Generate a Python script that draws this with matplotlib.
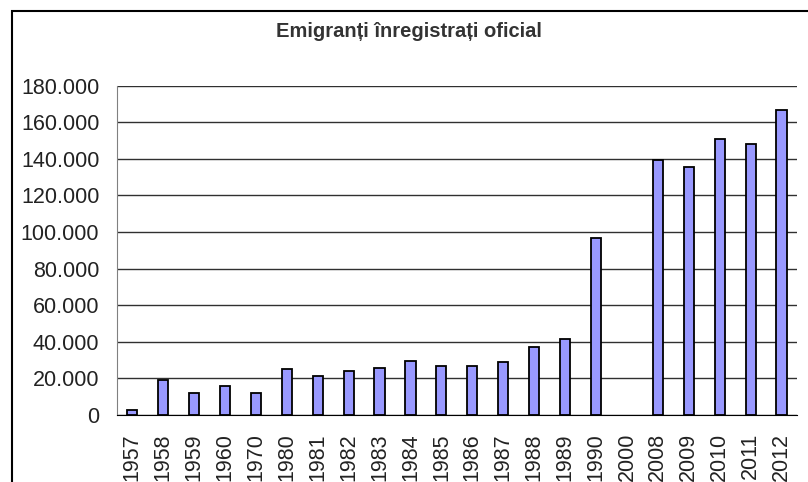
import matplotlib
matplotlib.use('Agg')
import matplotlib.pyplot as plt
import numpy as np
from matplotlib.patches import Rectangle
from matplotlib.ticker import FuncFormatter

ani = ['1957', '1958', '1959', '1960', '1970', '1980', '1981', '1982', '1983',
       '1984', '1985', '1986', '1987', '1988', '1989', '1990', '2000', '2008',
       '2009', '2010', '2011', '2012']
# 2000: fara valoare in grafic
emigranti = [2700, 19300, 12000, 15700, 12000, 25000, 21300, 24100, 25900,
             29700, 27000, 27000, 28800, 37200, 41700, 96900, np.nan, 139500,
             135400, 150700, 148000, 166500]

plt.rcParams['font.family'] = ['Liberation Sans', 'DejaVu Sans']

fig = plt.figure(figsize=(8.08, 4.82), dpi=100)
ax = fig.add_axes([116.7 / 808, 1 - 415 / 482, (797 - 116.7) / 808, (415 - 85.5) / 482])

x = np.arange(len(ani))
ax.bar(x, emigranti, width=0.33, color='#9999ff', edgecolor='black', linewidth=1.3, zorder=3)

ax.set_xlim(-0.5, len(ani) - 0.5)
ax.set_ylim(0, 180000)
ax.set_yticks(np.arange(0, 180001, 20000))
ax.yaxis.set_major_formatter(FuncFormatter(lambda v, p: f'{v:,.0f}'.replace(',', '.')))
ax.set_xticks(x)
ax.set_xticklabels(ani, rotation=90)

ax.grid(axis='y', color='#303030', linewidth=1.0, zorder=0)
ax.tick_params(axis='y', length=0, pad=12.5, labelsize=15.5, labelcolor='#222222')
ax.tick_params(axis='x', length=0, pad=13, labelsize=15.5, labelcolor='#222222')
for s in ['top', 'right']:
    ax.spines[s].set_visible(False)
ax.spines['left'].set_color('#808080')
ax.spines['bottom'].set_color('black')
ax.spines['bottom'].set_zorder(4)

# chenarul graficului
fig.patches.append(Rectangle((12 / 808, -0.1), 1.0, 1 - 11 / 482 + 0.1,
                             transform=fig.transFigure, fill=False,
                             edgecolor='black', linewidth=1.5))

fig.text(408.5 / 808, 1 - 36.7 / 482, 'Emigranți înregistrați oficial',
         ha='center', va='baseline', fontsize=14.5, fontweight='bold', color='#333333')

plt.savefig('out.png', dpi=100)
